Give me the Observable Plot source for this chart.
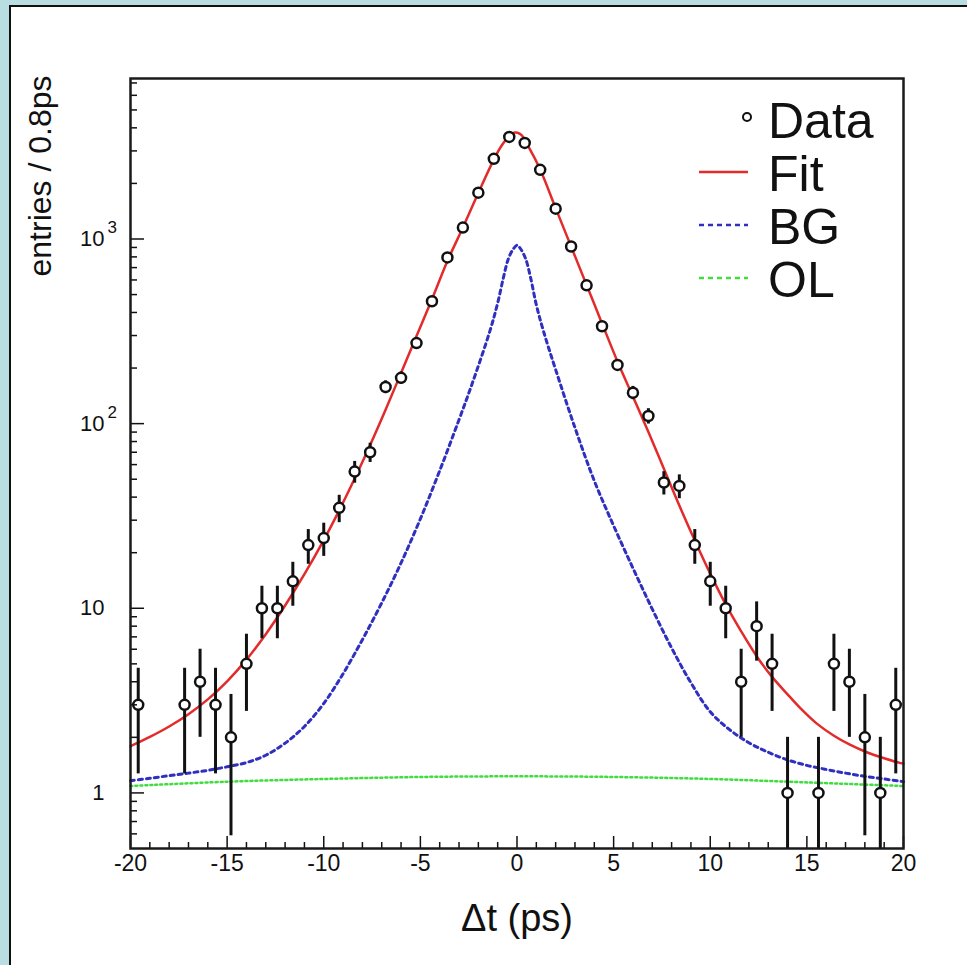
<!DOCTYPE html>
<html><head><meta charset="utf-8">
<script src="https://cdn.jsdelivr.net/npm/d3@7"></script>
<script src="https://cdn.jsdelivr.net/npm/@observablehq/plot@0.6"></script>
<style>
html,body{margin:0;padding:0;background:#b9dee1;width:967px;height:965px;overflow:hidden;}
#panel{position:absolute;left:9px;top:5px;width:990px;height:990px;background:#fff;border-left:2px solid #111;border-top:2px solid #111;}
#chart{position:absolute;left:0;top:0;}
#legend{position:absolute;left:0;top:0;}
</style></head><body>
<div id="panel"></div>
<div id="chart"></div>
<svg id="legend" width="967" height="965"></svg>
<script>
// ---- data points (bin centres, entries per 0.8 ps bin)
const dataX = [-19.6,-17.2,-16.4,-15.6,-14.8,-14.0,-13.2,-12.4,-11.6,-10.8,-10.0,-9.2,-8.4,-7.6,-6.8,-6.0,-5.2,-4.4,-3.6,-2.8,-2.0,-1.2,-0.4,0.4,1.2,2.0,2.8,3.6,4.4,5.2,6.0,6.8,7.6,8.4,9.2,10.0,10.8,11.6,12.4,13.2,14.0,15.6,16.4,17.2,18.0,18.8,19.6];
const dataN = [3,3,4,3,2,5,10,10,14,22,24,35,55,70,158,177,273,460,795,1153,1782,2717,3570,3313,2370,1459,911,561,337,208,147,110,48,46,22,14,10,4,8,5,1,1,5,4,2,1,3];

// ---- fit curve
const fitX = [-20,-19,-18,-17,-16,-15,-14,-13,-12,-11,-10,-9.2,-8.4,-7.6,-6.8,-6.0,-5.2,-4.4,-3.6,-2.8,-2.0,-1.2,-0.8,-0.4,-0.1,0.2,0.6,1.2,2.0,2.8,3.6,4.4,5.2,6.0,6.8,7.6,8.4,9.2,10.0,10.8,11.6,12.4,13.2,14.0,14.7,15.5,16.4,17.2,18.1,19,19.85,20];
const fitY = [1.79,2.01,2.29,2.67,3.21,4.02,5.27,7.24,10.35,15.3,23.4,33.9,50.4,76.6,119,188,298,472,760,1153,1778,2692,3200,3600,3770,3680,3150,2380,1469,910,564,349,217,140,90,57,36,23.3,15.4,10.5,7.5,5.5,4.25,3.42,2.85,2.38,2.04,1.83,1.66,1.54,1.45,1.44];

// ---- background component
const bgX = [-20,-19,-18,-17,-16,-15,-14,-13,-12,-11,-10,-9,-8,-7,-6,-5,-4,-3,-2.3,-1.4,-1.0,-0.7,-0.45,-0.2,0,0.2,0.45,0.7,1.0,1.37,2,3,4,5,6,7,8,9,10,11,12,13,14,15,16,17,18,19,20];
const bgY = [1.165,1.2,1.24,1.28,1.325,1.385,1.46,1.6,1.86,2.29,3.05,4.42,6.76,10.7,17.6,30.5,55.6,105,167,318,450,620,780,880,925,880,780,620,440,317,196,95,49,28,16.5,9.9,6.1,3.95,2.75,2.2,1.87,1.66,1.51,1.41,1.34,1.28,1.23,1.19,1.15];

// ---- outlier component
const olX = [-20,-15,-10,-5,0,5,10,15,20];
const olY = [1.09,1.15,1.19,1.22,1.23,1.22,1.19,1.14,1.09];

// ---- axes
const xMajor = [-20,-15,-10,-5,0,5,10,15,20];
const xMinor = d3.range(-20,21,1).filter(v => v % 5 !== 0);
const yMajor = [1,10,100,1000];
const yBase  = ["1","10","10","10"];
const yExp   = ["","","2","3"];
const yMinor = [0.6,0.7,0.8,0.9,2,3,4,5,6,7,8,9,20,30,40,50,60,70,80,90,200,300,400,500,600,700,800,900,2000,3000,4000,5000,6000,7000];
const yDomain = [0.5,7400];
const legendLabels = ["Data","Fit","BG","OL"];

const colFit = "#e32b2b", colBG = "#2f2fc0", colOL = "#40dc40";

const pts = dataX.map((x,i)=>({x, n:dataN[i], lo:Math.max(dataN[i]-Math.sqrt(dataN[i]), yDomain[0]), hi:dataN[i]+Math.sqrt(dataN[i])}));
const fit = fitX.map((x,i)=>({x,y:fitY[i]}));
const bg = bgX.map((x,i)=>({x,y:bgY[i]}));
const ol = olX.map((x,i)=>({x,y:olY[i]}));

const W=967,H=965,mL=130,mR=64,mT=78,mB=117;
const pw=W-mL-mR, ph=H-mT-mB;
const font = "'Liberation Sans', Arial, Helvetica, sans-serif";

const chart = Plot.plot({
  width:W, height:H, marginLeft:mL, marginRight:mR, marginTop:mT, marginBottom:mB,
  style:{background:"transparent", fontFamily:font, color:"#111"},
  x:{domain:[-20,20], axis:null},
  y:{type:"log", domain:yDomain, axis:null},
  marks:[
    Plot.line(ol,{x:"x",y:"y",stroke:colOL,strokeWidth:2.5,strokeDasharray:"2,3",curve:"catmull-rom"}),
    Plot.line(bg,{x:"x",y:"y",stroke:colBG,strokeWidth:3,strokeDasharray:"4,4",curve:"catmull-rom"}),
    Plot.line(fit,{x:"x",y:"y",stroke:colFit,strokeWidth:2.5,curve:"catmull-rom"}),
    Plot.ruleX(pts,{x:"x",y1:"lo",y2:"hi",stroke:"#111",strokeWidth:3}),
    Plot.dot(pts,{x:"x",y:"n",r:5,stroke:"#111",fill:"white",strokeWidth:2.5}),
    Plot.tickX(xMinor,{x:d=>d,insetTop:ph-6,stroke:"#111",strokeWidth:1.5}),
    Plot.tickX(xMajor,{x:d=>d,insetTop:ph-12,stroke:"#111",strokeWidth:1.5}),
    Plot.tickY(yMinor,{y:d=>d,insetRight:pw-7,stroke:"#111",strokeWidth:1.5}),
    Plot.tickY(yMajor,{y:d=>d,insetRight:pw-14,stroke:"#111",strokeWidth:1.5}),
    Plot.frame({stroke:"#1a1a1a",strokeWidth:2.5}),
    Plot.axisX(xMajor,{tickSize:0,tickPadding:6,tickFormat:d=>String(d),fontSize:23,fill:"#111",label:null}),
    Plot.text(yMajor,{y:d=>d,text:(d,i)=>yBase[i],frameAnchor:"left",textAnchor:"end",dx:-26,fontSize:22,fill:"#111"}),
    Plot.text(yMajor,{y:d=>d,text:(d,i)=>yExp[i],frameAnchor:"left",textAnchor:"start",dx:-23,dy:-11,fontSize:17,fill:"#111"}),
    Plot.text(["entries / 0.8ps"],{frameAnchor:"top-left",rotate:-90,textAnchor:"end",dx:-102,dy:-3,fontSize:32,fill:"#111"}),
    Plot.text(["\u0394t (ps)"],{frameAnchor:"bottom",dy:82,fontSize:38,fill:"#111"})
  ]
});
document.getElementById("chart").appendChild(chart);

// legend
const lg = d3.select("#legend");
const ly0 = 120, lstep = 53, ltx = 768;
legendLabels.forEach((lab,i)=>{
  const cy = ly0 + i*lstep;
  if(i===0){
    lg.append("circle").attr("cx",747).attr("cy",cy-3).attr("r",4).attr("fill","white").attr("stroke","#111").attr("stroke-width",2);
  } else {
    const col = [null,colFit,colBG,colOL][i];
    lg.append("line").attr("x1",699).attr("x2",748).attr("y1",cy-1).attr("y2",cy-1)
      .attr("stroke",col).attr("stroke-width",2.5).attr("stroke-dasharray",i===1?null:"5,4");
  }
  lg.append("text").attr("x",ltx).attr("y",cy).attr("dy","0.35em").attr("font-family",font)
    .attr("font-size",50).attr("fill","#111").text(lab);
});
</script>
</body></html>
